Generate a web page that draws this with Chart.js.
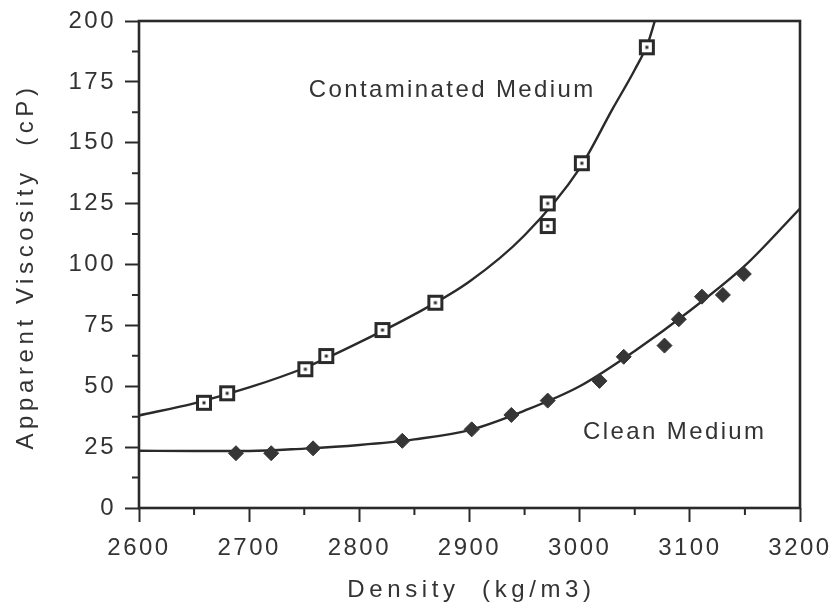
<!DOCTYPE html>
<html><head><meta charset="utf-8">
<script src="https://cdn.jsdelivr.net/npm/chart.js@4.4.1/dist/chart.umd.min.js"></script>
<style>html,body{margin:0;padding:0;background:#fff;} #wrap{width:835px;height:609px;position:relative;}</style>
</head><body><div id="wrap"><canvas id="c"></canvas></div>
<script>
// ---- data ----
const contamDensity   = [2659, 2680, 2751, 2770, 2821, 2869, 2971, 2971, 3002, 3061];
const contamViscosity = [43.2, 47.1, 57.0, 62.4, 73.1, 84.3, 125.1, 115.8, 141.6, 189.2];
const cleanDensity    = [2688, 2720, 2758, 2839, 2902, 2938, 2971, 3018, 3040, 3077, 3090, 3111, 3130, 3149];
const cleanViscosity  = [22.5, 22.5, 24.5, 27.6, 32.3, 38.2, 44.1, 52.2, 62.1, 66.7, 77.5, 86.8, 87.5, 96.1];
const contamFitDensity   = [2600, 2650, 2700, 2750, 2800, 2850, 2900, 2950, 3000, 3030, 3050, 3062, 3072];
const contamFitViscosity = [38, 43, 49.5, 57.5, 68, 79.5, 93, 112, 139.5, 164, 180, 191, 206];
const cleanFitDensity    = [2600, 2650, 2700, 2750, 2800, 2850, 2900, 2950, 3000, 3050, 3100, 3150, 3200];
const cleanFitViscosity  = [23.5, 23.4, 23.4, 24.4, 25.9, 28.2, 32, 40, 50, 64.5, 81, 99.5, 123];
const xTickValues = [2600, 2700, 2800, 2900, 3000, 3100, 3200];
const yTickValues = [0, 25, 50, 75, 100, 125, 150, 175, 200];
const seriesLabels = ['Contaminated Medium', 'Clean Medium'];
const xTitle = 'Density  (kg/m3)';
const yTitle = 'Apparent Viscosity  (cP)';
// label anchors (data coordinates)
const labelAnchors = [[2754, 168.8], [3003, 28.5]];

const INK = '#2a2a2a';
const TEXT = '#333333';
const FONT = '"Liberation Sans", Arial, sans-serif';
const TRACK = '2.5px';

function pts(xs, ys){ return xs.map((x,i)=>({x:x, y:ys[i]})); }

function squareMarker(){
  const c=document.createElement('canvas'); c.width=18; c.height=18;
  const g=c.getContext('2d');
  g.fillStyle='#fff'; g.fillRect(2,2,14,14);
  g.strokeStyle=INK; g.lineWidth=3; g.strokeRect(2.5,2.5,13,13);
  g.fillStyle=INK; g.fillRect(7.5,7.5,3,3);
  return c;
}

const chartArea = {left:139, right:800, top:21, bottom:508};

const trackPlugin = {
  id:'track',
  beforeUpdate(ch){ ch.ctx.letterSpacing = TRACK; },
  beforeLayout(ch){ ch.ctx.letterSpacing = TRACK; },
  beforeDraw(ch){ ch.ctx.letterSpacing = TRACK; }
};

const framePlugin = {
  id:'frame',
  afterDraw(ch){
    const ctx=ch.ctx, a=ch.chartArea, xs=ch.scales.x, ys=ch.scales.y;
    ctx.save();
    ctx.strokeStyle=INK; ctx.lineWidth=2.6;
    ctx.strokeRect(a.left, a.top, a.right-a.left, a.bottom-a.top);
    // minor ticks
    ctx.lineWidth=2;
    ctx.beginPath();
    for(let i=0;i<xTickValues.length-1;i++){
      const px = xs.getPixelForValue((xTickValues[i]+xTickValues[i+1])/2);
      ctx.moveTo(px, a.bottom); ctx.lineTo(px, a.bottom+7);
    }
    for(let i=0;i<yTickValues.length-1;i++){
      const py = ys.getPixelForValue((yTickValues[i]+yTickValues[i+1])/2);
      ctx.moveTo(a.left, py); ctx.lineTo(a.left-7, py);
    }
    ctx.stroke();
    ctx.fillStyle=TEXT;
    // axis titles
    ctx.font='24px '+FONT;
    ctx.letterSpacing='4.6px';
    ctx.textAlign='center'; ctx.textBaseline='middle';
    ctx.fillText(xTitle, (a.left+a.right)/2 + 2, 590);
    ctx.save();
    ctx.translate(26, (a.top+a.bottom)/2 + 2);
    ctx.rotate(-Math.PI/2);
    ctx.fillText(yTitle, 0, 0);
    ctx.restore();
    // series labels
    ctx.letterSpacing='2.4px';
    ctx.font='24px '+FONT;
    ctx.textAlign='left'; ctx.textBaseline='alphabetic';
    labelAnchors.forEach((p,i)=>{
      ctx.fillText(seriesLabels[i], xs.getPixelForValue(p[0]), ys.getPixelForValue(p[1]));
    });
    ctx.restore();
  }
};

new Chart(document.getElementById('c'), {
  type:'scatter',
  data:{ datasets:[
    { label:seriesLabels[0], data:pts(contamDensity, contamViscosity), pointStyle:squareMarker(), pointRadius:8, showLine:false },
    { label:seriesLabels[1], data:pts(cleanDensity, cleanViscosity), pointStyle:'rectRot', pointRadius:7.5,
      backgroundColor:'#363636', borderColor:'#363636', borderWidth:1, showLine:false },
    { label:'fit1', data:pts(contamFitDensity, contamFitViscosity), showLine:true, pointRadius:0,
      borderColor:INK, borderWidth:2.4, cubicInterpolationMode:'monotone', fill:false },
    { label:'fit2', data:pts(cleanFitDensity, cleanFitViscosity), showLine:true, pointRadius:0,
      borderColor:INK, borderWidth:2.4, cubicInterpolationMode:'monotone', fill:false }
  ]},
  options:{
    responsive:true, maintainAspectRatio:false, animation:false,
    layout:{ padding:{ left:0, right:835-chartArea.right, top:chartArea.top, bottom:0 } },
    plugins:{ legend:{display:false}, tooltip:{enabled:false} },
    scales:{
      x:{ type:'linear', min:2600, max:3200,
        afterBuildTicks:(s)=>{ s.ticks = xTickValues.map(v=>({value:v})); },
        afterFit:(s)=>{ s.height = 609 - chartArea.bottom; s.paddingRight = 0; s.paddingLeft = 0; },
        grid:{ display:true, drawOnChartArea:false, drawTicks:true, tickLength:14, tickWidth:2, tickColor:INK, color:'rgba(0,0,0,0)' },
        border:{ display:false },
        ticks:{ autoSkip:false, maxRotation:0, padding:12, color:TEXT, font:{family:FONT, size:24},
          callback:(v)=>String(v) },
        title:{ display:false }
      },
      y:{ type:'linear', min:0, max:200,
        afterBuildTicks:(s)=>{ s.ticks = yTickValues.map(v=>({value:v})); },
        afterFit:(s)=>{ s.width = chartArea.left; s.paddingTop = 0; s.paddingBottom = 0; },
        grid:{ display:true, drawOnChartArea:false, drawTicks:true, tickLength:14, tickWidth:2, tickColor:INK, color:'rgba(0,0,0,0)' },
        border:{ display:false },
        ticks:{ autoSkip:false, padding:9, color:TEXT, font:{family:FONT, size:24},
          callback:(v)=>String(v) },
        title:{ display:false }
      }
    }
  },
  plugins:[trackPlugin, framePlugin]
});
</script></body></html>
